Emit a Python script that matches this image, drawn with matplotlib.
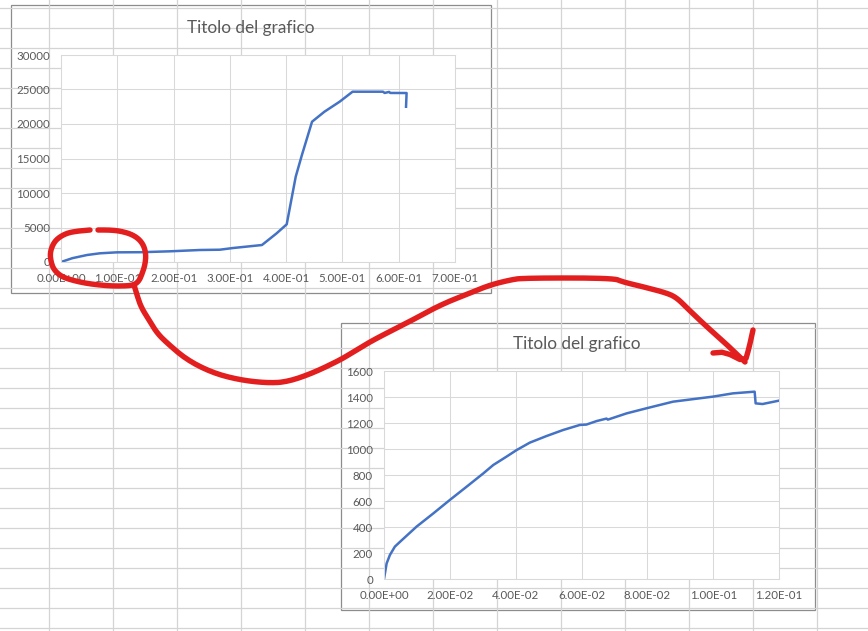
import matplotlib
matplotlib.use("Agg")
import matplotlib.pyplot as plt
from matplotlib.patches import Rectangle
from matplotlib.ticker import FuncFormatter, MultipleLocator

plt.rcParams['font.family'] = ['Lato', 'DejaVu Sans']

W, H = 868, 631

# --- data: full test curve (first chart)
x_full = [0, 0.02, 0.046, 0.069, 0.099, 0.142, 0.194, 0.247, 0.282, 0.306, 0.357,
          0.383, 0.401, 0.417, 0.428, 0.446, 0.468, 0.495, 0.518, 0.572, 0.575,
          0.583, 0.585, 0.614, 0.613]
y_full = [0, 550, 1010, 1260, 1400, 1420, 1550, 1740, 1780, 2030, 2460,
          4150, 5460, 12360, 15500, 20330, 21780, 23230, 24680, 24680, 24500,
          24650, 24500, 24490, 22500]

# --- data: zoom on the first part (second chart)
x_zoom = [0, 0.0008, 0.0018, 0.0033, 0.0049, 0.0099, 0.015, 0.020, 0.0251, 0.0302,
          0.0332, 0.0372, 0.0403, 0.0443, 0.0494, 0.0544, 0.0595, 0.0615, 0.0646,
          0.0676, 0.068, 0.0737, 0.0797, 0.0878, 0.0959, 0.1, 0.106, 0.1126,
          0.1129, 0.115, 0.12]
y_zoom = [0, 120, 185, 249, 287, 403, 505, 608, 710, 813,
          877, 941, 992, 1049, 1100, 1146, 1185, 1188, 1215,
          1234, 1226, 1274, 1313, 1364, 1390, 1403, 1428, 1441,
          1351, 1346, 1372]

title = "Titolo del grafico"

# --- red freehand marks (screen pixels)
circle_stroke = [(90, 230), (78, 231), (67, 233), (58, 238), (53, 244), (50, 253),
                 (51, 262), (54, 270), (62, 277), (75, 281), (90, 284), (110, 286),
                 (125, 286), (134, 285), (139, 281), (142, 274), (145, 265),
                 (146, 255), (144, 246), (139, 239), (131, 234), (120, 231),
                 (110, 230), (98, 230)]
path_stroke = [(134, 285), (137, 295), (141, 307), (149, 320), (157, 333), (167, 343),
               (187, 360), (213, 373), (240, 380), (267, 383), (287, 382),
               (313, 373), (340, 360), (350, 354), (373, 340), (407, 323),
               (440, 305), (470, 293), (490, 285), (510, 280), (523, 278),
               (613, 278), (623, 282), (640, 286), (667, 293), (677, 298),
               (687, 308), (707, 327), (723, 341), (745, 362)]
head_stroke = [(713, 353), (725, 352), (745, 362), (749, 348), (753, 330)]

RED = '#e31e1e'
BLUE = '#4472c4'
TXT = '#595959'
GRID = '#d9d9d9'


def smooth(pts, n=3):
    # chaikin corner cutting, ends kept
    for _ in range(n):
        out = [pts[0]]
        for (ax_, ay), (bx, by) in zip(pts[:-1], pts[1:]):
            out.append((0.75 * ax_ + 0.25 * bx, 0.75 * ay + 0.25 * by))
            out.append((0.25 * ax_ + 0.75 * bx, 0.25 * ay + 0.75 * by))
        out.append(pts[-1])
        pts = out
    return pts


fig = plt.figure(figsize=(W / 100, H / 100), dpi=100)
fig.patch.set_facecolor('white')

# spreadsheet background
bg = fig.add_axes([0, 0, 1, 1], zorder=-1)
bg.set_xlim(0, W)
bg.set_ylim(H, 0)
bg.axis('off')
for gx in range(49, W, 64):
    bg.axvline(gx, color='#d4d4d4', lw=0.9)
for gy in range(8, H, 20):
    bg.axhline(gy, color='#d4d4d4', lw=0.9)

boxes = [(11, 5, 491, 293), (341, 323, 815, 610)]
for x0, y0, x1, y1 in boxes:
    bg.add_patch(Rectangle((x0, y0), x1 - x0, y1 - y0, facecolor='white',
                           edgecolor='#8c8c8c', lw=0.9))
bg.text(251, 28, title, ha='center', va='center', fontsize=12.4, color=TXT)
bg.text(577, 344, title, ha='center', va='center', fontsize=12.4, color=TXT)


def px_axes(left, top, right, bottom):
    return fig.add_axes([left / W, (H - bottom) / H, (right - left) / W, (bottom - top) / H])


def style(ax):
    ax.set_facecolor('white')
    for s in ax.spines.values():
        s.set_color(GRID)
        s.set_linewidth(0.75)
    ax.grid(True, color=GRID, lw=0.75)
    ax.set_axisbelow(True)
    ax.tick_params(length=0, labelsize=8.3, labelcolor=TXT, pad=8)
    ax.xaxis.set_major_formatter(FuncFormatter(lambda v, p: f"{v:.2E}"))


ax1 = px_axes(61, 55, 455, 262)
ax1.plot(x_full, y_full, color=BLUE, lw=1.8)
ax1.set_xlim(0, 0.7)
ax1.set_ylim(0, 30000)
ax1.xaxis.set_major_locator(MultipleLocator(0.1))
ax1.yaxis.set_major_locator(MultipleLocator(5000))
style(ax1)

ax2 = px_axes(384, 371, 779, 579)
ax2.plot(x_zoom, y_zoom, color=BLUE, lw=1.8)
ax2.set_xlim(0, 0.12)
ax2.set_ylim(0, 1600)
ax2.xaxis.set_major_locator(MultipleLocator(0.02))
ax2.yaxis.set_major_locator(MultipleLocator(200))
style(ax2)

# red annotation on top of everything
top = fig.add_axes([0, 0, 1, 1], zorder=10)
top.set_xlim(0, W)
top.set_ylim(H, 0)
top.axis('off')
top.patch.set_alpha(0)
for stroke in (smooth(circle_stroke), smooth(path_stroke), smooth(head_stroke, 1)):
    xs, ys = zip(*stroke)
    top.plot(xs, ys, color=RED, lw=3.9, solid_capstyle='round', solid_joinstyle='round')

fig.savefig("out.png", dpi=100)
